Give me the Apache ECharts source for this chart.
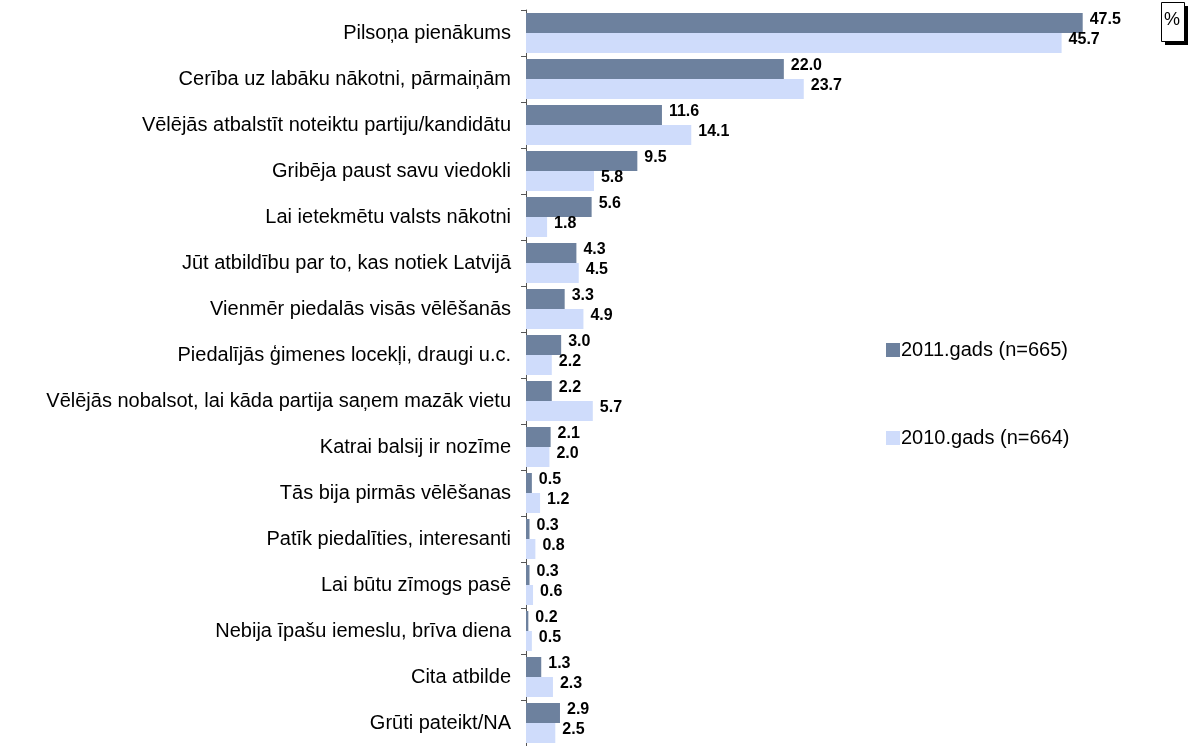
<!DOCTYPE html>
<html>
<head>
<meta charset="utf-8">
<script src="https://cdn.jsdelivr.net/npm/echarts@6/dist/echarts.min.js"></script>
<style>
	html, body { margin: 0; padding: 0; background: #fff; }
	#chart { width: 1192px; height: 746px; }
</style>
</head>
<body>
<div id="chart"></div>
<script>
var categories = [
	'Pilsoņa pienākums',
	'Cerība uz labāku nākotni, pārmaiņām',
	'Vēlējās atbalstīt noteiktu partiju/kandidātu',
	'Gribēja paust savu viedokli',
	'Lai ietekmētu valsts nākotni',
	'Jūt atbildību par to, kas notiek Latvijā',
	'Vienmēr piedalās visās vēlēšanās',
	'Piedalījās ģimenes locekļi, draugi u.c.',
	'Vēlējās nobalsot, lai kāda partija saņem mazāk vietu',
	'Katrai balsij ir nozīme',
	'Tās bija pirmās vēlēšanas',
	'Patīk piedalīties, interesanti',
	'Lai būtu zīmogs pasē',
	'Nebija īpašu iemeslu, brīva diena',
	'Cita atbilde',
	'Grūti pateikt/NA'
];
var series2011 = [47.5, 22.0, 11.6, 9.5, 5.6, 4.3, 3.3, 3.0, 2.2, 2.1, 0.5, 0.3, 0.3, 0.2, 1.3, 2.9];
var series2010 = [45.7, 23.7, 14.1, 5.8, 1.8, 4.5, 4.9, 2.2, 5.7, 2.0, 1.2, 0.8, 0.6, 0.5, 2.3, 2.5];
var seriesNames = ['2011.gads (n=665)', '2010.gads (n=664)'];

var font = 'Arial, "Liberation Sans", sans-serif';

function barLabel(dy) {
	return {
		show : true,
		position : 'right',
		distance : 7,
		offset : [0, dy],
		color : '#000',
		fontWeight : 'bold',
		fontSize : 16,
		fontFamily : font,
		formatter : function(p) {
			return p.value.toFixed(1);
		}
	};
}

var option = {
	animation : false,
	textStyle : { fontFamily : font },
	grid : {
		left : 526,
		right : 80,
		top : 10,
		bottom : 0,
		containLabel : false
	},
	legend : {
		orient : 'vertical',
		left : 886,
		top : 340,
		padding : 0,
		itemWidth : 14,
		itemHeight : 14,
		itemGap : 68,
		icon : 'rect',
		textStyle : {
			fontSize : 20,
			color : '#000',
			fontFamily : font,
			padding : [0, 0, 0, -4]
		},
		data : seriesNames
	},
	xAxis : {
		type : 'value',
		min : 0,
		max : 50,
		show : false
	},
	yAxis : {
		type : 'category',
		inverse : true,
		data : categories,
		axisLine : { lineStyle : { color : '#555', width : 1 } },
		axisTick : { show : true, length : 5, inside : false, alignWithLabel : false, lineStyle : { color : '#555' } },
		axisLabel : {
			color : '#000',
			fontSize : 20,
			fontFamily : font,
			margin : 15
		}
	},
	series : [ {
		name : seriesNames[0],
		type : 'bar',
		data : series2011,
		barWidth : 20,
		barGap : '0%',
		itemStyle : { color : '#6d819e' },
		label : barLabel(-3)
	}, {
		name : seriesNames[1],
		type : 'bar',
		data : series2010,
		barWidth : 20,
		barGap : '0%',
		itemStyle : { color : '#cfdcfb' },
		label : barLabel(-3)
	} ],
	graphic : [ {
		type : 'rect',
		left : 1165,
		top : 6,
		shape : { width : 23, height : 39 },
		style : { fill : '#000' }
	}, {
		type : 'rect',
		left : 1161,
		top : 2,
		shape : { width : 23, height : 39 },
		style : { fill : '#fff', stroke : '#000', lineWidth : 1 }
	}, {
		type : 'text',
		left : 1164,
		top : 11,
		style : { text : '%', fontSize : 18, fontFamily : font, fill : '#000' }
	} ]
};

var myChart = echarts.init(document.getElementById('chart'));
myChart.setOption(option, true);
</script>
</body>
</html>
